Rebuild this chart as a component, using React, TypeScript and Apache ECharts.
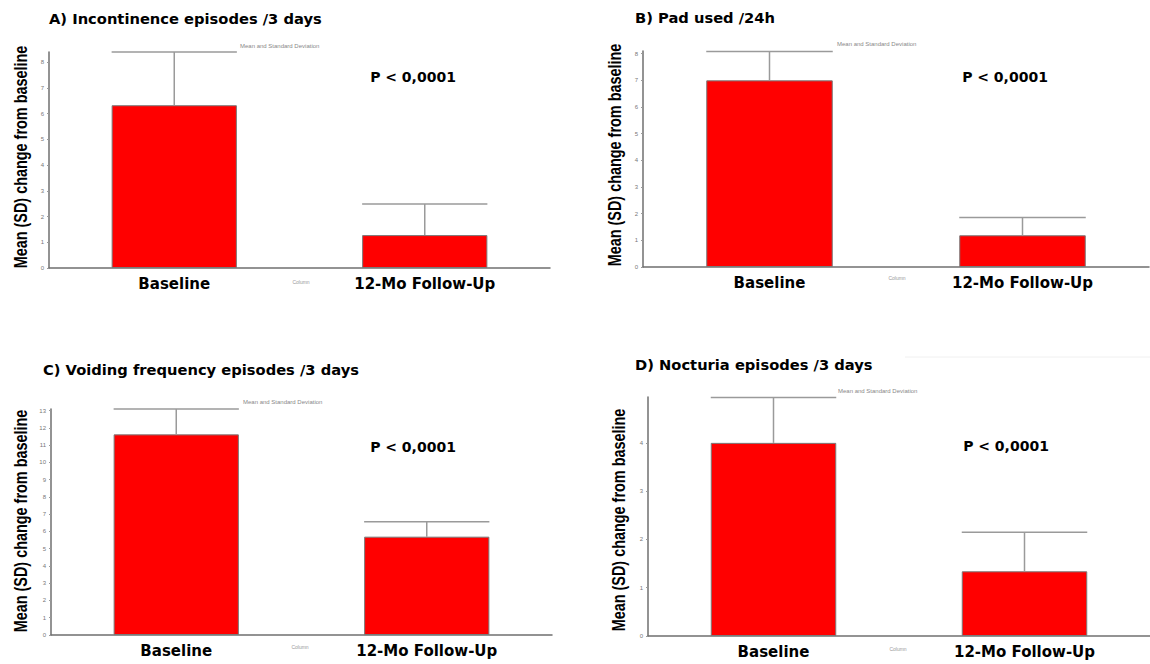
import React, { useEffect, useRef } from "react";
import * as echarts from "echarts";

// ---- data ----
const categories = ["Baseline", "12-Mo Follow-Up"];
const panelTitles = [
  "A) Incontinence episodes /3 days",
  "B) Pad used /24h",
  "C) Voiding frequency episodes /3 days",
  "D) Nocturia episodes /3 days",
];
const meansA = [6.33, 1.28];
const sdA = [2.07, 1.21];
const meansB = [7.0, 1.19];
const sdB = [1.08, 0.67];
const meansC = [11.63, 5.7];
const sdC = [1.47, 0.86];
const meansD = [4.0, 1.34];
const sdD = [0.94, 0.81];
const axisMaxes = [8.4, 8.1, 13.1, 4.95];
const ticksA = [0, 1, 2, 3, 4, 5, 6, 7, 8];
const ticksB = [0, 1, 2, 3, 4, 5, 6, 7, 8];
const ticksC = [0, 1, 2, 3, 4, 5, 6, 7, 8, 9, 10, 11, 12, 13];
const ticksD = [0, 1, 2, 3, 4];
const pValueText = "P < 0,0001";
const yAxisTitle = "Mean (SD) change from baseline";
const legendNote = "Mean and Standard Deviation";
const axisNote = "Column";

const means = [meansA, meansB, meansC, meansD];
const sds = [sdA, sdB, sdC, sdD];
const ticks = [ticksA, ticksB, ticksC, ticksD];

// ---- layout ----
const grids = [
  { left: 49, top: 52, width: 501, height: 216 },
  { left: 643, top: 51, width: 506, height: 216 },
  { left: 51, top: 409, width: 501, height: 226 },
  { left: 648, top: 397, width: 502, height: 239 },
];
const titlePos = [
  [49, 11],
  [635, 10],
  [43, 362],
  [635, 357],
];
const pPos = [
  [413, 77],
  [1005, 77],
  [413, 447],
  [1006, 446],
];
const notePos = [
  [240, 46],
  [837, 44],
  [243, 402],
  [838, 391],
];
const columnPos = [
  [301, 282],
  [897, 278],
  [300, 647],
  [898, 649],
];
const yNamePos = [
  [21, 157],
  [615, 155],
  [21, 521],
  [619, 520],
];

const BOLD_FONT = "'DejaVu Sans', sans-serif";
const ARIAL = "'Liberation Sans', Arial, sans-serif";

export default function App() {
  const ref = useRef<HTMLDivElement>(null);
  useEffect(() => {
    if (!ref.current) return;
    const chart = echarts.init(ref.current, undefined, { renderer: "svg" });

    const grid = grids.map((g) => ({ ...g, containLabel: false }));
    const xAxis = grids.map((_, i) => ({
      type: "category",
      gridIndex: i,
      data: categories,
      boundaryGap: true,
      axisTick: { show: false },
      axisLine: { lineStyle: { color: "#6f6f6f", width: 1.5 } },
      axisLabel: {
        color: "#000",
        fontFamily: BOLD_FONT,
        fontWeight: "bold",
        fontSize: 15,
        margin: 8,
      },
    }));
    const yAxis = grids.map((_, i) => ({
      type: "value",
      gridIndex: i,
      min: 0,
      max: axisMaxes[i],
      interval: 1,
      splitLine: { show: false },
      axisLine: { show: true, lineStyle: { color: "#6f6f6f", width: 1.5 } },
      axisTick: {
        show: true,
        length: 2,
        customValues: ticks[i],
        lineStyle: { color: "#999" },
      },
      axisLabel: {
        customValues: ticks[i],
        fontSize: 6,
        color: "#777",
        margin: 5,
        formatter: (v: number) => (Number.isInteger(v) ? String(v) : ""),
      },
    }));

    const series: any[] = [];
    means.forEach((m, i) => {
      series.push({
        type: "bar",
        xAxisIndex: i,
        yAxisIndex: i,
        data: m,
        barWidth: "50%",
        itemStyle: { color: "#ff0000", borderColor: "#7a7a7a", borderWidth: 1 },
        z: 2,
      });
      series.push({
        type: "custom",
        xAxisIndex: i,
        yAxisIndex: i,
        clip: false,
        z: 3,
        data: m.map((v, k) => [k, v, sds[i][k]]),
        renderItem: (params: any, api: any) => {
          const x = api.value(0);
          const y = api.value(1);
          const sd = api.value(2);
          const p0 = api.coord([x, y]);
          const p1 = api.coord([x, y + sd]);
          const w = api.size([1, 0])[0] * 0.5;
          const style = { stroke: "#9a9a9a", lineWidth: 1.5 };
          return {
            type: "group",
            children: [
              { type: "line", shape: { x1: p0[0], y1: p0[1], x2: p1[0], y2: p1[1] }, style },
              { type: "line", shape: { x1: p1[0] - w / 2, y1: p1[1], x2: p1[0] + w / 2, y2: p1[1] }, style },
            ],
          };
        },
      });
    });

    const graphic: any[] = [];
    panelTitles.forEach((t, i) => {
      graphic.push({
        type: "text",
        x: titlePos[i][0],
        y: titlePos[i][1],
        style: {
          text: t,
          fill: "#000",
          font: `bold 14.7px ${BOLD_FONT}`,
          textVerticalAlign: "top",
        },
      });
      graphic.push({
        type: "text",
        x: yNamePos[i][0],
        y: yNamePos[i][1],
        rotation: Math.PI / 2,
        scaleX: 0.78,
        style: {
          text: yAxisTitle,
          fill: "#000",
          font: `bold 18.5px ${ARIAL}`,
          textAlign: "center",
          textVerticalAlign: "middle",
        },
      });
      graphic.push({
        type: "text",
        x: pPos[i][0],
        y: pPos[i][1],
        style: {
          text: pValueText,
          fill: "#000",
          font: `bold 14px ${BOLD_FONT}`,
          textAlign: "center",
          textVerticalAlign: "middle",
        },
      });
      graphic.push({
        type: "text",
        x: notePos[i][0],
        y: notePos[i][1],
        style: {
          text: legendNote,
          fill: "#888",
          font: `6px ${ARIAL}`,
          textVerticalAlign: "middle",
        },
      });
      graphic.push({
        type: "text",
        x: columnPos[i][0],
        y: columnPos[i][1],
        style: {
          text: axisNote,
          fill: "#999",
          font: `5px ${ARIAL}`,
          textAlign: "center",
          textVerticalAlign: "middle",
        },
      });
    });
    graphic.push({
      type: "line",
      shape: { x1: 905, y1: 357, x2: 1150, y2: 357 },
      style: { stroke: "#f0f0f0", lineWidth: 1 },
    });

    chart.setOption({
      animation: false,
      backgroundColor: "#ffffff",
      grid,
      xAxis,
      yAxis,
      series,
      graphic,
    });
    return () => chart.dispose();
  }, []);
  return (
    <div
      ref={ref}
      style={{ position: "fixed", left: 0, top: 0, width: 1150, height: 664 }}
    />
  );
}
